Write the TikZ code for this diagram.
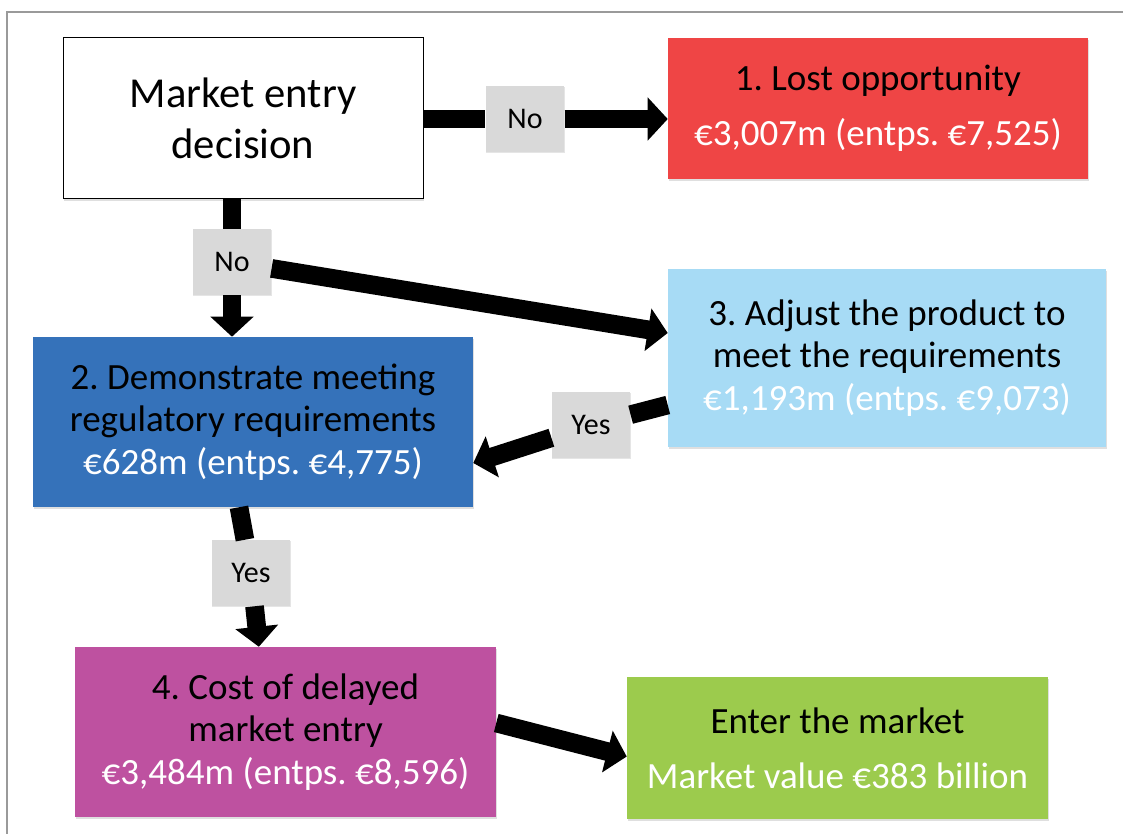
\documentclass[tikz,border=0pt]{standalone}
\usepackage{fontspec}
\setmainfont{Carlito}
\usepackage{xcolor}
\usetikzlibrary{positioning, calc, arrows.meta, shadows}
\definecolor{lostred}{HTML}{EF4545}
\definecolor{demoblue}{HTML}{3572BA}
\definecolor{adjustblue}{HTML}{A7DBF5}
\definecolor{delaypink}{HTML}{BE51A0}
\definecolor{entergreen}{HTML}{9CCB4D}
\definecolor{lblgray}{HTML}{D9D9D9}
\definecolor{framegray}{HTML}{9A9A9A}
\frenchspacing

\begin{document}
\begin{tikzpicture}[x=0.75pt,y=-0.75pt,
    box/.style={rectangle, inner sep=0pt, align=center, font=\fontsize{27.75}{32}\selectfont,
      drop shadow={opacity=0.25, shadow xshift=0.8pt, shadow yshift=-1.2pt}},
    lbl/.style={rectangle, fill=lblgray, inner sep=0pt, minimum width=59pt, minimum height=49.5pt,
      font=\fontsize{22.5}{26}\selectfont, drop shadow={opacity=0.2, shadow xshift=0.6pt, shadow yshift=-0.9pt}},
    fat/.style={line width=14pt},
    fatarrow/.style={line width=14pt, -{Triangle[width=31.5pt,length=15pt]}}]
    \useasboundingbox (0,0) rectangle (1123,834);
    \fill[white] (0,0) rectangle (1123,834);
    \draw[framegray, line width=1.5pt] (7,834) -- (7,12.5) -- (1123,12.5);

    \node[box, draw=black, line width=0.75pt, fill=white, minimum width=270pt, minimum height=120.75pt,
      font=\fontsize{32}{38}\selectfont] (decision) at (243,118.5) {Market entry\\decision};
    \node[box, fill=lostred, minimum width=315pt, minimum height=105.75pt] (lost) at (878,108.5)
      {1. Lost opportunity\\[9pt]\textcolor{white}{€3,007m (entps. €7,525)}};
    \node[box, fill=adjustblue, minimum width=328.5pt, minimum height=133.5pt] (adjust) at (887,358)
      {3. Adjust the product to\\meet the requirements\\\textcolor{white}{€1,193m (entps. €9,073)}};
    \node[box, fill=demoblue, minimum width=330pt, minimum height=127.5pt] (demo) at (253,422)
      {2. Demonstrate meeting\\regulatory requirements\\\textcolor{white}{€628m (entps. €4,775)}};
    \node[box, fill=delaypink, minimum width=315.75pt, minimum height=127.5pt] (delay) at (285.5,732)
      {4. Cost of delayed\\market entry\\\textcolor{white}{€3,484m (entps. €8,596)}};
    \node[box, fill=entergreen, minimum width=315.75pt, minimum height=106.5pt] (enter) at (837.5,748)
      {Enter the market\\[9pt]\textcolor{white}{Market value €383 billion}};

    \node[lbl] (no1) at (525,119) {No};
    \node[lbl] (no2) at (232,262) {No};
    \node[lbl] (yes1) at (591,425) {Yes};
    \node[lbl] (yes2) at (251,573) {Yes};

    \draw[fat] (decision.east |- no1) -- (no1);
    \draw[fatarrow] (no1) -- (no1 -| lost.west);
    \draw[fat] (decision.south -| no2) -- (no2);
    \draw[fatarrow] (no2) -- (no2 |- demo.north);
    \draw[fatarrow] (no2) -- ([yshift=18.75pt]adjust.west);
    \draw[fat] ([yshift=-35.25pt]adjust.west) -- (yes1);
    \draw[fatarrow] (yes1) -- ([yshift=-30.75pt]demo.east);
    \draw[fat] ([xshift=-10.5pt]demo.south) -- (yes2);
    \draw[fatarrow] (yes2) -- ([xshift=-20pt]delay.north);
    \draw[fatarrow] ([yshift=6.75pt]delay.east) -- ([yshift=-6.4pt]enter.west);
\end{tikzpicture}
\end{document}
